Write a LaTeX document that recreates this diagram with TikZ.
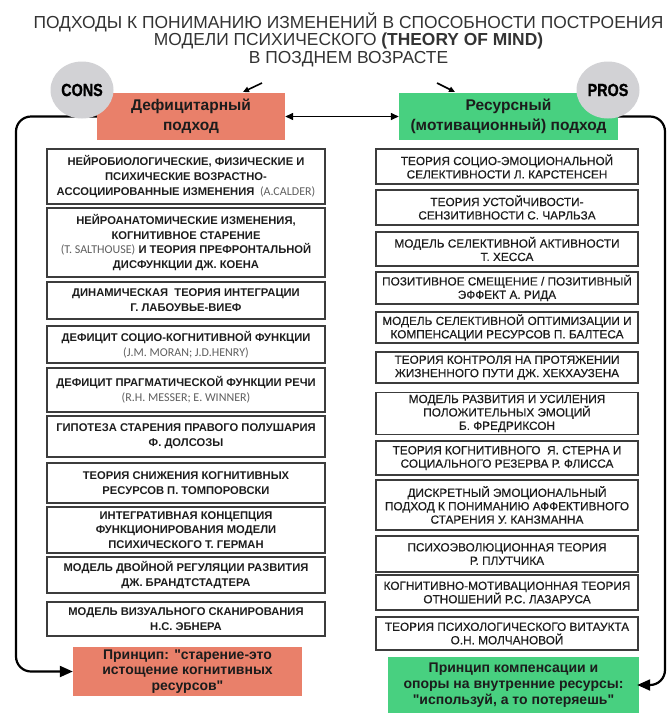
\documentclass[tikz,border=0pt]{standalone}
\usepackage{graphicx}
\usepackage{fontspec}
\setmainfont{Liberation Sans}[Ligatures=TeXOff]
\newfontfamily\latfont{Carlito}
\newfontfamily\medfont{Liberation Sans}[FakeBold=0.35, Ligatures=TeXOff]
\newfontfamily\heavyfont{Liberation Sans}[FakeBold=1.2]
\usetikzlibrary{shapes.geometric,arrows.meta}

\definecolor{defred}{RGB}{233,128,106}
\definecolor{resgreen}{RGB}{72,208,128}
\definecolor{bubble}{RGB}{210,210,213}
\definecolor{ink}{RGB}{28,28,28}
\definecolor{frame}{RGB}{60,60,60}
\definecolor{latgray}{RGB}{95,95,95}

% author names in Latin script, set lighter and smaller
\newcommand\latname[1]{{\latfont\mdseries\fontsize{12}{12}\selectfont\color{latgray}#1}}

\begin{document}
\begin{tikzpicture}[x=1pt,y=-1pt,
  lbox/.style={draw=frame, line width=1.3pt, fill=white, minimum width=278pt,
    inner sep=0pt, align=center, text=ink,
    font=\fontsize{11.2}{14.8}\selectfont\bfseries},
  rbox/.style={draw=frame, line width=1.3pt, fill=white, minimum width=262pt,
    inner sep=0pt, align=center, text=ink,
    font=\medfont\fontsize{11.8}{13.4}\selectfont},
  headbox/.style={inner sep=0pt, minimum height=47pt, align=center, text=ink,
    font=\fontsize{15.5}{20}\selectfont\bfseries},
  bubblenode/.style={ellipse, fill=bubble, minimum width=63pt, minimum height=57pt,
    inner sep=0pt, text=black, font=\heavyfont\fontsize{17.5}{17.5}\selectfont\bfseries},
  principle/.style={inner sep=0pt, align=center, text=ink,
    font=\fontsize{14}{15.8}\selectfont\bfseries},
  titletext/.style={anchor=base, text=ink!90, font=\fontsize{17.4}{17.4}\selectfont},
  connector/.style={line width=2.2pt, rounded corners=15pt,
    -{Triangle[length=13pt,width=11pt]}},
  pointer/.style={line width=1.6pt, -{Triangle[length=6pt,width=5.5pt]}},
  link/.style={line width=1.4pt,
    {Triangle[length=8pt,width=7pt]}-{Triangle[length=8pt,width=7pt]}}
]
\useasboundingbox (0,0) rectangle (671,713);
\fill[white] (0,0) rectangle (671,713);

% title
\node[titletext] (t1) at (348.5,28) {ПОДХОДЫ К ПОНИМАНИЮ ИЗМЕНЕНИЙ В СПОСОБНОСТИ ПОСТРОЕНИЯ};
\node[titletext] (t2) at (348.5,45.5) {МОДЕЛИ ПСИХИЧЕСКОГО \textbf{(THEORY OF MIND)}};
\node[titletext] (t3) at (348.5,63) {В ПОЗДНЕМ ВОЗРАСТЕ};

% the two approaches
\node[headbox, fill=defred, minimum width=188pt] (hdef) at (191,116.5) {Дефицитарный\\подход};
\node[headbox, fill=resgreen, minimum width=219pt] (hres) at (508.5,116.5) {Ресурсный\\(мотивационный) подход};

% deficit approach: theories
\node[lbox, minimum height=55pt] (l1) at (186,176.5) {НЕЙРОБИОЛОГИЧЕСКИЕ, ФИЗИЧЕСКИЕ И\\ПСИХИЧЕСКИЕ ВОЗРАСТНО-\\АССОЦИИРОВАННЫЕ ИЗМЕНЕНИЯ\enspace\latname{(A.CALDER)}};
\node[lbox, minimum height=69pt] (l2) at (186,242.5) {НЕЙРОАНАТОМИЧЕСКИЕ ИЗМЕНЕНИЯ,\\КОГНИТИВНОЕ СТАРЕНИЕ\\\latname{(T. SALTHOUSE)} И ТЕОРИЯ ПРЕФРОНТАЛЬНОЙ\\ДИСФУНКЦИИ ДЖ. КОЕНА};
\node[lbox, minimum height=37pt] (l3) at (186,300.5) {ДИНАМИЧЕСКАЯ\ \ ТЕОРИЯ ИНТЕГРАЦИИ\\Г. ЛАБОУВЬЕ-ВИЕФ};
\node[lbox, minimum height=37pt] (l4) at (186,344.5) {ДЕФИЦИТ СОЦИО-КОГНИТИВНОЙ ФУНКЦИИ\\\latname{(J.M. MORAN; J.D.HENRY)}};
\node[lbox, minimum height=44pt] (l5) at (186,390) {ДЕФИЦИТ ПРАГМАТИЧЕСКОЙ ФУНКЦИИ РЕЧИ\\\latname{(R.H. MESSER; E. WINNER)}};
\node[lbox, minimum height=41pt] (l6) at (186,436.5) {ГИПОТЕЗА СТАРЕНИЯ ПРАВОГО ПОЛУШАРИЯ\\Ф. ДОЛСОЗЫ};
\node[lbox, minimum height=40pt] (l7) at (186,483) {ТЕОРИЯ СНИЖЕНИЯ КОГНИТИВНЫХ\\РЕСУРСОВ П. ТОМПОРОВСКИ};
\node[lbox, minimum height=46pt] (l8) at (186,530) {ИНТЕГРАТИВНАЯ КОНЦЕПЦИЯ\\ФУНКЦИОНИРОВАНИЯ МОДЕЛИ\\ПСИХИЧЕСКОГО Т. ГЕРМАН};
\node[lbox, minimum height=36pt] (l9) at (186,575) {МОДЕЛЬ ДВОЙНОЙ РЕГУЛЯЦИИ РАЗВИТИЯ\\ДЖ. БРАНДТСТАДТЕРА};
\node[lbox, minimum height=34pt] (l10) at (186,619) {МОДЕЛЬ ВИЗУАЛЬНОГО СКАНИРОВАНИЯ\\Н.С. ЭБНЕРА};

% resource approach: theories
\node[rbox, minimum height=35pt] (r1) at (507,166.5) {ТЕОРИЯ СОЦИО-ЭМОЦИОНАЛЬНОЙ\\СЕЛЕКТИВНОСТИ Л. КАРСТЕНСЕН};
\node[rbox, minimum height=35pt] (r2) at (507,207.5) {ТЕОРИЯ УСТОЙЧИВОСТИ-\\СЕНЗИТИВНОСТИ С. ЧАРЛЬЗА};
\node[rbox, minimum height=34pt] (r3) at (507,249) {МОДЕЛЬ СЕЛЕКТИВНОЙ АКТИВНОСТИ\\Т. ХЕССА};
\node[rbox, minimum height=32pt] (r4) at (507,288) {ПОЗИТИВНОЕ СМЕЩЕНИЕ / ПОЗИТИВНЫЙ\\ЭФФЕКТ А. РИДА};
\node[rbox, minimum height=31pt] (r5) at (507,327.5) {МОДЕЛЬ СЕЛЕКТИВНОЙ ОПТИМИЗАЦИИ И\\КОМПЕНСАЦИИ РЕСУРСОВ П. БАЛТЕСА};
\node[rbox, minimum height=31pt] (r6) at (507,367.5) {ТЕОРИЯ КОНТРОЛЯ НА ПРОТЯЖЕНИИ\\ЖИЗНЕННОГО ПУТИ ДЖ. ХЕКХАУЗЕНА};
\node[rbox, minimum height=42pt] (r7) at (507,413.5) {МОДЕЛЬ РАЗВИТИЯ И УСИЛЕНИЯ\\ПОЛОЖИТЕЛЬНЫХ ЭМОЦИЙ\\Б. ФРЕДРИКСОН};
\node[rbox, minimum height=34pt] (r8) at (507,458) {ТЕОРИЯ КОГНИТИВНОГО\ \ Я. СТЕРНА И\\СОЦИАЛЬНОГО РЕЗЕРВА Р. ФЛИССА};
\node[rbox, minimum height=50pt] (r9) at (507,505) {ДИСКРЕТНЫЙ ЭМОЦИОНАЛЬНЫЙ\\ПОДХОД К ПОНИМАНИЮ АФФЕКТИВНОГО\\СТАРЕНИЯ У. КАНЗМАННА};
\node[rbox, minimum height=36pt] (r10) at (507,554) {ПСИХОЭВОЛЮЦИОННАЯ ТЕОРИЯ\\Р. ПЛУТЧИКА};
\node[rbox, minimum height=35pt] (r11) at (507,592.5) {КОГНИТИВНО-МОТИВАЦИОННАЯ ТЕОРИЯ\\ОТНОШЕНИЙ Р.С. ЛАЗАРУСА};
\node[rbox, minimum height=33pt] (r12) at (507,633.5) {ТЕОРИЯ ПСИХОЛОГИЧЕСКОГО ВИТАУКТА\\О.Н. МОЛЧАНОВОЙ};

% guiding principles
\node[principle, fill=defred, minimum width=229pt, minimum height=49pt] (pdef) at (187.5,671.5)
  {Принцип: "старение-это\\истощение когнитивных\\ресурсов"};
\node[principle, fill=resgreen, minimum width=251pt, minimum height=56pt] (pres) at (513.5,685)
  {Принцип компенсации и\\опоры на внутренние ресурсы:\\"используй, а то потеряешь"};

% connectors
\coordinate (leftrail) at (16,400);
\coordinate (rightrail) at (665,400);
\draw[connector] (hdef.west) -| (leftrail |- pdef.west) -- (pdef.west);
\draw[connector] (hres.east) -| (rightrail |- pres.east) -- ([xshift=-2pt]pres.east);
\draw[link] (hdef.east) -- (hres.west);

\coordinate (pa1) at (262,83);
\coordinate (pa1t) at (243,92);
\coordinate (pa2) at (437,83);
\coordinate (pa2t) at (455,92);
\draw[pointer] (pa1) -- (pa1t);
\draw[pointer] (pa2) -- (pa2t);

% CONS / PROS bubbles
\node[bubblenode] (cons) at (82,90) {\scalebox{0.82}[1]{CONS}};
\node[bubblenode] (pros) at (608,90) {\scalebox{0.82}[1]{PROS}};
\end{tikzpicture}
\end{document}
